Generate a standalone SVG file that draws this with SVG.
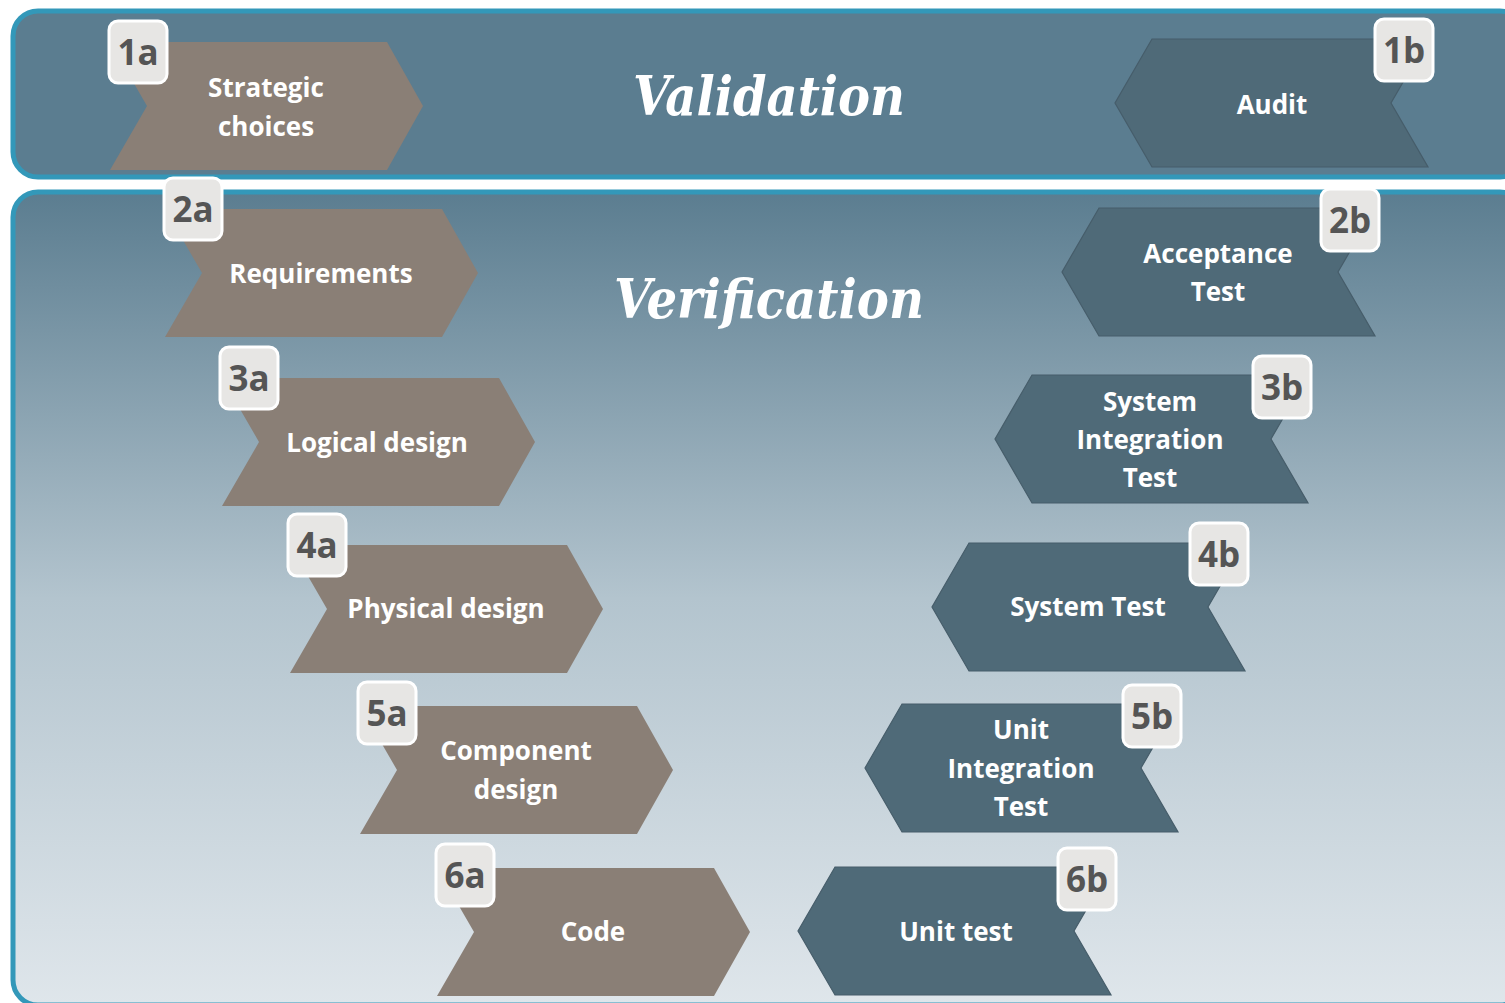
<svg xmlns="http://www.w3.org/2000/svg" width="1505" height="1003" viewBox="0 0 1505 1003">
  <defs>
    <linearGradient id="verif-fill" x1="0" y1="0" x2="0" y2="1">
      <stop offset="0" stop-color="#5b7d90"/>
      <stop offset="0.5" stop-color="#b3c4ce"/>
      <stop offset="1" stop-color="#dfe6eb"/>
    </linearGradient>
    <!-- forward chevron (design steps) -->
    <path id="chev-a" d="M0 0 H277 L313 64 L277 128 H0 L37 64 Z"/>
    <!-- backward chevron (test steps) -->
    <path id="chev-b" d="M37 0 H313 L276 64 L313 128 H37 L0 64 Z"/>
    <rect id="badge" x="0" y="0" width="58" height="62" rx="9" ry="9"/>
  </defs>
  <style>
    .panel { stroke: #3398b9; stroke-width: 5; }
    .a use { fill: #8a7f76; }
    .b use { fill: #4f6a78; stroke: #465d6a; stroke-width: 1.2; }
    .badge use { fill: #e7e6e4; stroke: #ffffff; stroke-width: 3; }
    .lbl { font-family: "Open Sans", "Noto Sans", "DejaVu Sans", sans-serif; font-weight: 700; font-size: 26px; fill: #ffffff; text-anchor: middle; }
    .num { font-family: "Open Sans", "Noto Sans", "DejaVu Sans", sans-serif; font-weight: 700; font-size: 35px; fill: #555555; text-anchor: middle; }
    .title { font-family: "DejaVu Serif Condensed", "DejaVu Serif", "Liberation Serif", serif; font-style: italic; font-weight: 700; font-size: 55px; fill: #ffffff; text-anchor: middle; }
  </style>

  <rect width="1505" height="1003" fill="#ffffff"/>

  <!-- panels -->
  <g id="panel-validation">
    <rect class="panel" x="13" y="11" width="1512" height="166" rx="25" ry="25" fill="#5b7d90"/>
    <text class="title" x="769" y="115" textLength="272" lengthAdjust="spacingAndGlyphs">Validation</text>
  </g>
  <g id="panel-verification">
    <rect class="panel" x="13" y="192" width="1512" height="813" rx="25" ry="25" fill="url(#verif-fill)"/>
    <text class="title" x="769" y="318" textLength="310" lengthAdjust="spacingAndGlyphs">Verification</text>
  </g>

  <!-- no connectors in this diagram -->
  <g id="connectors"/>

  <!-- design side -->
  <g id="node-1a" class="a">
    <use href="#chev-a" transform="translate(110,42)"/>
    <text class="lbl" x="266" y="97">Strategic</text>
    <text class="lbl" x="266" y="136">choices</text>
    <g class="badge"><use href="#badge" transform="translate(109,21)"/></g>
    <text class="num" x="138" y="65">1a</text>
  </g>
  <g id="node-2a" class="a">
    <use href="#chev-a" transform="translate(165,209)"/>
    <text class="lbl" x="321" y="283">Requirements</text>
    <g class="badge"><use href="#badge" transform="translate(164,178)"/></g>
    <text class="num" x="193" y="222">2a</text>
  </g>
  <g id="node-3a" class="a">
    <use href="#chev-a" transform="translate(222,378)"/>
    <text class="lbl" x="377" y="452">Logical design</text>
    <g class="badge"><use href="#badge" transform="translate(220,347)"/></g>
    <text class="num" x="249" y="391">3a</text>
  </g>
  <g id="node-4a" class="a">
    <use href="#chev-a" transform="translate(290,545)"/>
    <text class="lbl" x="446" y="618">Physical design</text>
    <g class="badge"><use href="#badge" transform="translate(288,514)"/></g>
    <text class="num" x="317" y="558">4a</text>
  </g>
  <g id="node-5a" class="a">
    <use href="#chev-a" transform="translate(360,706)"/>
    <text class="lbl" x="516" y="760">Component</text>
    <text class="lbl" x="516" y="799">design</text>
    <g class="badge"><use href="#badge" transform="translate(358,682)"/></g>
    <text class="num" x="387" y="726">5a</text>
  </g>
  <g id="node-6a" class="a">
    <use href="#chev-a" transform="translate(437,868)"/>
    <text class="lbl" x="593" y="941">Code</text>
    <g class="badge"><use href="#badge" transform="translate(436,844)"/></g>
    <text class="num" x="465" y="888">6a</text>
  </g>

  <!-- test side -->
  <g id="node-1b" class="b">
    <use href="#chev-b" transform="translate(1115,39)"/>
    <text class="lbl" x="1272" y="114">Audit</text>
    <g class="badge"><use href="#badge" transform="translate(1375,19)"/></g>
    <text class="num" x="1404" y="63">1b</text>
  </g>
  <g id="node-2b" class="b">
    <use href="#chev-b" transform="translate(1062,208)"/>
    <text class="lbl" x="1218" y="263">Acceptance</text>
    <text class="lbl" x="1218" y="301">Test</text>
    <g class="badge"><use href="#badge" transform="translate(1321,189)"/></g>
    <text class="num" x="1350" y="233">2b</text>
  </g>
  <g id="node-3b" class="b">
    <use href="#chev-b" transform="translate(995,375)"/>
    <text class="lbl" x="1150" y="411">System</text>
    <text class="lbl" x="1150" y="449">Integration</text>
    <text class="lbl" x="1150" y="487">Test</text>
    <g class="badge"><use href="#badge" transform="translate(1253,356)"/></g>
    <text class="num" x="1282" y="400">3b</text>
  </g>
  <g id="node-4b" class="b">
    <use href="#chev-b" transform="translate(932,543)"/>
    <text class="lbl" x="1088" y="616">System Test</text>
    <g class="badge"><use href="#badge" transform="translate(1190,523)"/></g>
    <text class="num" x="1219" y="567">4b</text>
  </g>
  <g id="node-5b" class="b">
    <use href="#chev-b" transform="translate(865,704)"/>
    <text class="lbl" x="1021" y="739">Unit</text>
    <text class="lbl" x="1021" y="778">Integration</text>
    <text class="lbl" x="1021" y="816">Test</text>
    <g class="badge"><use href="#badge" transform="translate(1123,685)"/></g>
    <text class="num" x="1152" y="729">5b</text>
  </g>
  <g id="node-6b" class="b">
    <use href="#chev-b" transform="translate(798,867)"/>
    <text class="lbl" x="956" y="941">Unit test</text>
    <g class="badge"><use href="#badge" transform="translate(1058,848)"/></g>
    <text class="num" x="1087" y="892">6b</text>
  </g>
</svg>
